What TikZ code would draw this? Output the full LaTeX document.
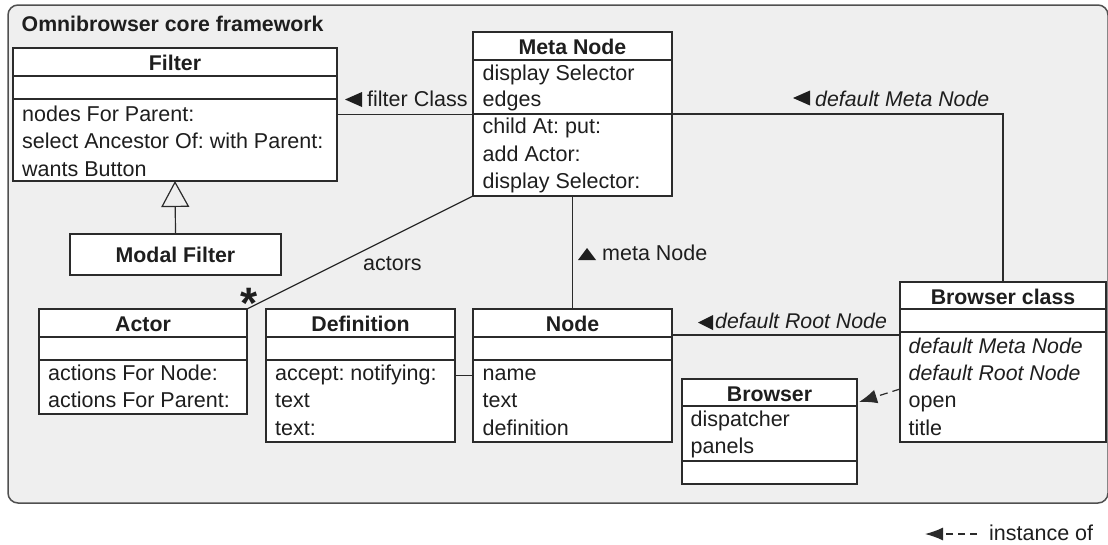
\documentclass[tikz,border=0pt]{standalone}
\usepackage{fontspec}
\setmainfont{Liberation Sans}
\usetikzlibrary{arrows.meta,calc}
\definecolor{linec}{HTML}{2B2B2B}
\definecolor{txt}{HTML}{1E1E1E}
\definecolor{framefill}{HTML}{EFEFEF}
\definecolor{framec}{HTML}{505050}
\tikzset{
  box/.style={draw=linec, fill=white, line width=1.4pt, outer sep=0pt, inner sep=0pt, anchor=north west},
  hdr/.style={font=\fontsize{21.3}{25}\selectfont\bfseries\frenchspacing, anchor=base, inner sep=0pt, text=txt},
  row/.style={font=\fontsize{21.5}{25}\selectfont\frenchspacing, anchor=base west, inner sep=0pt, text=txt},
  irow/.style={font=\fontsize{21.3}{25}\selectfont\itshape\frenchspacing, anchor=base west, inner sep=0pt, text=txt},
  divl/.style={draw=linec, line width=1.4pt},
  conn/.style={draw=linec, line width=1.2pt},
  tri/.style={fill=txt, draw=none},
}
\begin{document}
\begin{tikzpicture}[x=1pt,y=-1pt]
\useasboundingbox (0,0) rectangle (1108,544);
% frame
\node[draw=framec, fill=framefill, line width=1.5pt, rounded corners=10pt, minimum width=1100pt, minimum height=498pt, anchor=north west, inner sep=0pt, outer sep=0pt] (frame) at (8,5) {};
\node[hdr, anchor=base west] (title) at (21.5,31.5) {Omnibrowser core framework};

% Filter
\node[box, minimum width=324pt, minimum height=133pt] (filter) at (13,48) {};
\draw[divl] ([yshift=-28pt]filter.north west) -- ([yshift=-28pt]filter.north east);
\draw[divl] ([yshift=-51pt]filter.north west) -- ([yshift=-51pt]filter.north east);
\node[hdr] (filterH) at (175,70) {Filter};
\node[row] (f1) at (22,121) {nodes For Parent:};
\node[row] (f2) at (22,148.5) {select Ancestor Of: with Parent:};
\node[row] (f3) at (22,176) {wants Button};

% Modal Filter
\node[box, minimum width=211pt, minimum height=41pt] (modal) at (70,234) {};
\node[hdr] (modalH) at (175.5,262) {Modal Filter};

% Meta Node
\node[box, minimum width=199pt, minimum height=164pt] (meta) at (473,32) {};
\draw[divl] ([yshift=-28pt]meta.north west) -- ([yshift=-28pt]meta.north east);
\draw[divl] ([yshift=-82pt]meta.north west) -- ([yshift=-82pt]meta.north east);
\node[hdr] (metaH) at (572.5,54) {Meta Node};
\node[row] (m1) at (482.5,80) {display Selector};
\node[row] (m2) at (482.5,106.5) {edges};
\node[row] (m3) at (482.5,133.5) {child At: put:};
\node[row] (m4) at (482.5,161) {add Actor:};
\node[row] (m5) at (482.5,188) {display Selector:};

% Actor
\node[box, minimum width=208pt, minimum height=105pt] (actor) at (39,309) {};
\draw[divl] ([yshift=-28pt]actor.north west) -- ([yshift=-28pt]actor.north east);
\draw[divl] ([yshift=-51pt]actor.north west) -- ([yshift=-51pt]actor.north east);
\node[hdr] (actorH) at (143,331.5) {Actor};
\node[row] (a1) at (48,380) {actions For Node:};
\node[row] (a2) at (48,407.5) {actions For Parent:};

% Definition
\node[box, minimum width=189pt, minimum height=133pt] (defn) at (266,309) {};
\draw[divl] ([yshift=-28pt]defn.north west) -- ([yshift=-28pt]defn.north east);
\draw[divl] ([yshift=-51pt]defn.north west) -- ([yshift=-51pt]defn.north east);
\node[hdr] (defnH) at (360.5,331.5) {Definition};
\node[row] (d1) at (275,380) {accept: notifying:};
\node[row] (d2) at (275,407.5) {text};
\node[row] (d3) at (275,435) {text:};

% Node
\node[box, minimum width=199pt, minimum height=133pt] (node) at (473,309) {};
\draw[divl] ([yshift=-28pt]node.north west) -- ([yshift=-28pt]node.north east);
\draw[divl] ([yshift=-51pt]node.north west) -- ([yshift=-51pt]node.north east);
\node[hdr] (nodeH) at (572.5,331.5) {Node};
\node[row] (n1) at (482.5,380) {name};
\node[row] (n2) at (482.5,407.5) {text};
\node[row] (n3) at (482.5,435) {definition};

% Browser class
\node[box, minimum width=206pt, minimum height=160pt] (bclass) at (900,282) {};
\draw[divl] ([yshift=-27pt]bclass.north west) -- ([yshift=-27pt]bclass.north east);
\draw[divl] ([yshift=-50pt]bclass.north west) -- ([yshift=-50pt]bclass.north east);
\node[hdr] (bclassH) at (1003,304) {Browser class};
\node[irow] (b1) at (908.5,353) {default Meta Node};
\node[irow] (b2) at (908.5,380) {default Root Node};
\node[row] (b3) at (908.5,407.5) {open};
\node[row] (b4) at (908.5,435) {title};

% Browser
\node[box, minimum width=175pt, minimum height=105pt] (browser) at (682,379) {};
\draw[divl] ([yshift=-27pt]browser.north west) -- ([yshift=-27pt]browser.north east);
\draw[divl] ([yshift=-82pt]browser.north west) -- ([yshift=-82pt]browser.north east);
\node[hdr] (browserH) at (769.5,401) {Browser};
\node[row] (w1) at (690.5,426) {dispatcher};
\node[row] (w2) at (690.5,453) {panels};

% connectors
\draw[conn] (filter.east) -- (filter.east -| meta.west);
\draw[conn] (meta.east) -- (meta.east -| bclass.north) -- (bclass.north);
\draw[conn] (meta.south) -- (node.north);
\draw[conn] (meta.south west) -- (actor.north east);
\draw[conn] (defn.east) -- (node.west);
\draw[conn] ([yshift=-26pt]node.north east) -- ([yshift=-26pt]node.north east -| bclass.west);
\draw[conn, -{Triangle[open, length=26pt, width=28pt, line width=1.2pt]}, fill=white] (modal.north) -- (filter.south);
\draw[conn, dash pattern=on 8pt off 5pt, -{Latex[length=18pt, width=14pt]}] ([yshift=-27pt]bclass.west) -- ([xshift=2pt, yshift=29.5pt]browser.east);

% labels
\fill[tri] (345,99.5) -- (362,92) -- (362,107) -- cycle;
\node[row] (lfc) at (367,106) {filter Class};
\fill[tri] (793,98) -- (810,90.5) -- (810,105.5) -- cycle;
\node[irow] (ldmn) at (815,106) {default Meta Node};
\fill[tri] (578,260) -- (596,260) -- (587,248) -- cycle;
\node[row] (lmn) at (602,260) {meta Node};
\node[row] (lact) at (363,270) {actors};
\node[font=\fontsize{44}{44}\selectfont\bfseries, anchor=base, inner sep=0pt, text=txt] (star) at (249.5,318.5) {*};
\fill[tri] (698,322.5) -- (713,315) -- (713,330) -- cycle;
\node[irow] (ldrn) at (715,328) {default Root Node};

% legend
\coordinate (legA) at (977,534);
\coordinate (legB) at (925,534);
\draw[conn, dash pattern=on 7pt off 5pt, -{Latex[length=18pt, width=13pt]}] (legA) -- (legB);
\node[row] (legT) at (989,540) {instance of};
\end{tikzpicture}
\end{document}
